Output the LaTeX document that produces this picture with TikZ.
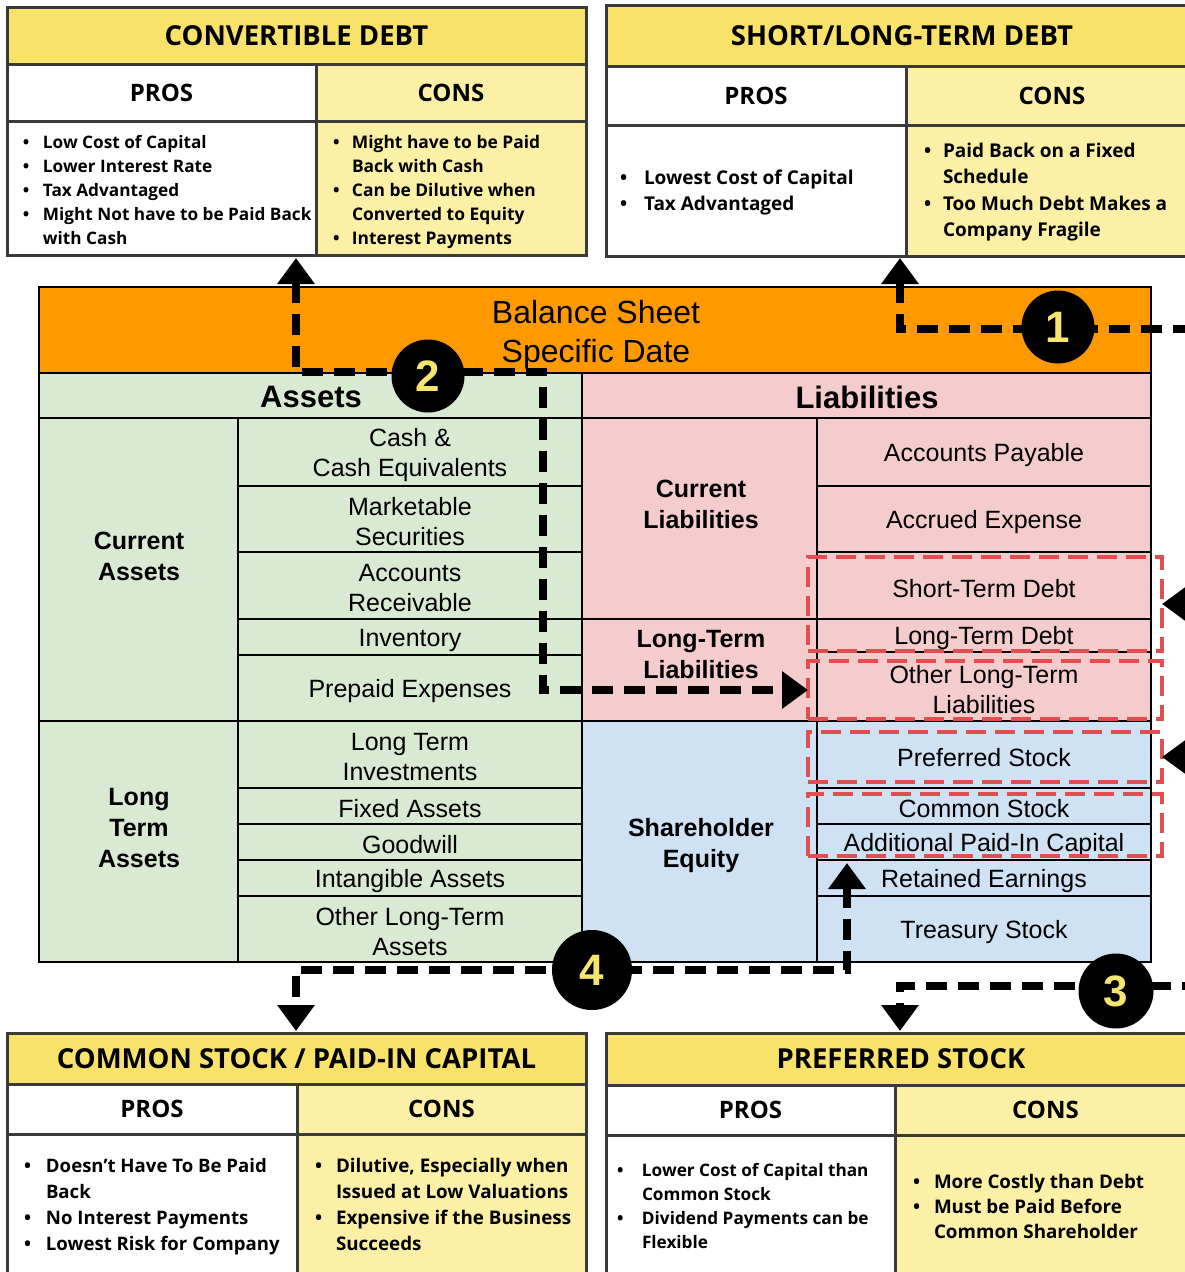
\documentclass[tikz,border=0pt]{standalone}
\usepackage{fontspec}
\setmainfont{Liberation Sans}
\newfontfamily\tblfont{Open Sans}
\usetikzlibrary{arrows.meta}
\definecolor{ttlc}{HTML}{F9E26A}
\definecolor{consbg}{HTML}{FCF0A6}
\definecolor{orng}{HTML}{FF9900}
\definecolor{grn}{HTML}{D9EAD3}
\definecolor{pnk}{HTML}{F4CCCC}
\definecolor{blu}{HTML}{CFE2F3}
\definecolor{redd}{HTML}{E04E50}
\definecolor{numy}{HTML}{F7E56E}
\definecolor{bord}{HTML}{3A3A3A}
\newlength\bind
\newcommand\bitem[1]{\par\hangindent=\bind\hangafter=1\noindent\hbox to\bind{\textbullet\hfil}#1}
\newcommand\blist[4]{\parbox[t]{400pt}{\raggedright\tblfont\bfseries\fontsize{#1}{#2}\selectfont\setlength\bind{#3}#4}}
\begin{document}
\begin{tikzpicture}[x=1pt,y=-1pt,
  tcell/.style={draw=bord, line width=3pt, anchor=north west, inner sep=0pt, outer sep=0pt},
  ttlbox/.style={tcell, fill=ttlc, font=\tblfont\bfseries\fontsize{27.5}{32}\selectfont},
  hdbox/.style={tcell, font=\tblfont\bfseries\fontsize{24}{28}\selectfont},
  listnode/.style={anchor=base west, inner sep=0pt, outer sep=0pt},
  bcell/.style={draw=black, line width=1.4pt, anchor=north west, inner sep=0pt, outer sep=0pt},
  btext/.style={align=center, inner sep=0pt, yshift=-3pt, font=\fontsize{25}{30}\selectfont},
  blabel/.style={align=center, inner sep=0pt, font=\bfseries\fontsize{25}{31}\selectfont},
  bhead/.style={inner sep=0pt, font=\bfseries\fontsize{31}{36}\selectfont},
  redbox/.style={draw=redd, line width=3.5pt, dash pattern=on 20pt off 9pt, anchor=north west, inner sep=0pt, outer sep=0pt},
  conn/.style={draw=black, line width=8pt, dash pattern=on 21pt off 11pt},
  dbl/.style={arrows={Triangle[width=36pt,length=26pt]-Triangle[width=36pt,length=26pt]}},
  numc/.style={circle, fill=black, inner sep=0pt, text=numy, font=\bfseries\fontsize{44}{44}\selectfont}
]
\useasboundingbox (0,0) rectangle (1185,1272);
\clip (0,0) rectangle (1185,1272);
\fill[white] (0,0) rectangle (1185,1272);

% ===== Convertible debt table =====
\node[ttlbox, minimum width=579pt, minimum height=57pt] (cdT) at (7,7) {CONVERTIBLE DEBT};
\node[hdbox, fill=white, minimum width=309pt, minimum height=57pt] (cdPH) at (7,64) {PROS};
\node[hdbox, fill=consbg, minimum width=270pt, minimum height=57pt] (cdCH) at (316,64) {CONS};
\node[tcell, fill=white, minimum width=309pt, minimum height=134pt] (cdPB) at (7,121) {};
\node[tcell, fill=consbg, minimum width=270pt, minimum height=134pt] (cdCB) at (316,121) {};
\node[listnode] (cdPL) at (23,148) {\blist{17.2}{24}{20pt}{\bitem{Low Cost of Capital}\bitem{Lower Interest Rate}\bitem{Tax Advantaged}\bitem{Might Not have to be Paid Back\newline with Cash}}};
\node[listnode] (cdCL) at (333,148) {\blist{17.4}{24}{19pt}{\bitem{Might have to be Paid\newline Back with Cash}\bitem{Can be Dilutive when\newline Converted to Equity}\bitem{Interest Payments}}};

% ===== Short/Long-term debt table =====
\node[ttlbox, minimum width=592pt, minimum height=61pt] (sdT) at (606,5) {SHORT/LONG-TERM DEBT};
\node[hdbox, fill=white, minimum width=300pt, minimum height=59pt] (sdPH) at (606,66) {PROS};
\node[hdbox, fill=consbg, minimum width=292pt, minimum height=59pt] (sdCH) at (906,66) {CONS};
\node[tcell, fill=white, minimum width=300pt, minimum height=131pt] (sdPB) at (606,125) {};
\node[tcell, fill=consbg, minimum width=292pt, minimum height=131pt] (sdCB) at (906,125) {};
\node[listnode] (sdPL) at (620,184) {\blist{19}{26.5}{24pt}{\bitem{Lowest Cost of Capital}\bitem{Tax Advantaged}}};
\node[listnode] (sdCL) at (924,157) {\blist{19}{26.5}{19pt}{\bitem{Paid Back on a Fixed\newline Schedule}\bitem{Too Much Debt Makes a\newline Company Fragile}}};

% ===== Common stock table =====
\node[ttlbox, minimum width=579pt, minimum height=51pt] (csT) at (7,1033) {COMMON STOCK / PAID-IN CAPITAL};
\node[hdbox, fill=white, minimum width=290pt, minimum height=50pt] (csPH) at (7,1084) {PROS};
\node[hdbox, fill=consbg, minimum width=289pt, minimum height=50pt] (csCH) at (297,1084) {CONS};
\node[tcell, fill=white, minimum width=290pt, minimum height=160pt] (csPB) at (7,1134) {};
\node[tcell, fill=consbg, minimum width=289pt, minimum height=160pt] (csCB) at (297,1134) {};
\node[listnode] (csPL) at (24,1172) {\blist{18.6}{26.3}{22pt}{\bitem{Doesn’t Have To Be Paid\newline Back}\bitem{No Interest Payments}\bitem{Lowest Risk for Company}}};
\node[listnode] (csCL) at (315,1172) {\blist{18.8}{26.3}{21pt}{\bitem{Dilutive, Especially when\newline Issued at Low Valuations}\bitem{Expensive if the Business\newline Succeeds}}};

% ===== Preferred stock table =====
\node[ttlbox, minimum width=590pt, minimum height=52pt] (pfT) at (606,1033) {PREFERRED STOCK};
\node[hdbox, fill=white, minimum width=289pt, minimum height=50pt] (pfPH) at (606,1085) {PROS};
\node[hdbox, fill=consbg, minimum width=301pt, minimum height=50pt] (pfCH) at (895,1085) {CONS};
\node[tcell, fill=white, minimum width=289pt, minimum height=160pt] (pfPB) at (606,1135) {};
\node[tcell, fill=consbg, minimum width=301pt, minimum height=160pt] (pfCB) at (895,1135) {};
\node[listnode] (pfPL) at (617,1176) {\blist{17.2}{24}{25pt}{\bitem{Lower Cost of Capital than\newline Common Stock}\bitem{Dividend Payments can be\newline Flexible}}};
\node[listnode] (pfCL) at (913,1188) {\blist{18.8}{25}{21pt}{\bitem{More Costly than Debt}\bitem{Must be Paid Before\newline Common Shareholder}}};

% ===== Balance sheet =====
\fill[orng] (39,287) rectangle (1151,373);
\fill[grn] (39,373) rectangle (582,962);
\fill[pnk] (582,373) rectangle (1151,721);
\fill[blu] (582,721) rectangle (1151,962);
\node[align=center, inner sep=0pt, font=\fontsize{32}{39}\selectfont] (bsT) at (596,335) {Balance Sheet\\Specific Date};
\node[bhead] (assetsH) at (311,397) {Assets};
\node[bhead] (liabH) at (867,397) {Liabilities};

% asset cells
\node[bcell, minimum width=199pt, minimum height=303pt] (curA) at (39,418) {};
\node[bcell, minimum width=199pt, minimum height=241pt] (ltA) at (39,721) {};
\node[bcell, minimum width=344pt, minimum height=68pt] (cash) at (238,418) {};
\node[bcell, minimum width=344pt, minimum height=66pt] (mkt) at (238,486) {};
\node[bcell, minimum width=344pt, minimum height=67pt] (ar) at (238,552) {};
\node[bcell, minimum width=344pt, minimum height=36pt] (inv) at (238,619) {};
\node[bcell, minimum width=344pt, minimum height=66pt] (prep) at (238,655) {};
\node[bcell, minimum width=344pt, minimum height=67pt] (lti) at (238,721) {};
\node[bcell, minimum width=344pt, minimum height=36pt] (fixed) at (238,788) {};
\node[bcell, minimum width=344pt, minimum height=36pt] (gw) at (238,824) {};
\node[bcell, minimum width=344pt, minimum height=36pt] (intang) at (238,860) {};
\node[bcell, minimum width=344pt, minimum height=66pt] (olta) at (238,896) {};
% liability / equity cells
\node[bcell, minimum width=235pt, minimum height=201pt] (curL) at (582,418) {};
\node[bcell, minimum width=235pt, minimum height=102pt] (ltL) at (582,619) {};
\node[bcell, minimum width=235pt, minimum height=241pt] (she) at (582,721) {};
\node[bcell, minimum width=334pt, minimum height=68pt] (ap) at (817,418) {};
\node[bcell, minimum width=334pt, minimum height=66pt] (accr) at (817,486) {};
\node[bcell, minimum width=334pt, minimum height=67pt] (std) at (817,552) {};
\node[bcell, minimum width=334pt, minimum height=33pt] (ltd) at (817,619) {};
\node[bcell, minimum width=334pt, minimum height=69pt] (oltl) at (817,652) {};
\node[bcell, minimum width=334pt, minimum height=67pt] (pref) at (817,721) {};
\node[bcell, minimum width=334pt, minimum height=36pt] (cs) at (817,788) {};
\node[bcell, minimum width=334pt, minimum height=36pt] (apic) at (817,824) {};
\node[bcell, minimum width=334pt, minimum height=36pt] (re) at (817,860) {};
\node[bcell, minimum width=334pt, minimum height=66pt] (ts) at (817,896) {};

% cell texts
\node[btext] (cashT) at (cash.center) {Cash \&\\Cash Equivalents};
\node[btext] (mktT) at (mkt.center) {Marketable\\Securities};
\node[btext] (arT) at (ar.center) {Accounts\\Receivable};
\node[btext] (invT) at (inv.center) {Inventory};
\node[btext] (prepT) at (prep.center) {Prepaid Expenses};
\node[btext] (ltiT) at (lti.center) {Long Term\\Investments};
\node[btext] (fixedT) at (fixed.center) {Fixed Assets};
\node[btext] (gwT) at (gw.center) {Goodwill};
\node[btext] (intangT) at (intang.center) {Intangible Assets};
\node[btext] (oltaT) at (olta.center) {Other Long-Term\\Assets};
\node[btext] (apT) at (ap.center) {Accounts Payable};
\node[btext] (accrT) at (accr.center) {Accrued Expense};
\node[btext] (stdT) at (std.center) {Short-Term Debt};
\node[btext] (ltdT) at (ltd.center) {Long-Term Debt};
\node[btext] (oltlT) at (oltl.center) {Other Long-Term\\Liabilities};
\node[btext] (prefT) at (pref.center) {Preferred Stock};
\node[btext] (csT2) at (cs.center) {Common Stock};
\node[btext] (apicT) at (apic.center) {Additional Paid-In Capital};
\node[btext] (reT) at (re.center) {Retained Earnings};
\node[btext] (tsT) at (ts.center) {Treasury Stock};

\node[blabel] (curAL) at (139,556) {Current\\Assets};
\node[blabel] (ltAL) at (139,828) {Long\\Term\\Assets};
\node[blabel] (curLL) at (701,504) {Current\\Liabilities};
\node[blabel] (ltLL) at (701,655) {Long-Term\\Liabilities};
\node[blabel] (sheL) at (701,846) {Shareholder\\Equity};

% major lines
\draw[black, line width=2pt] (39,373) -- (1151,373) (39,418) -- (1151,418) (582,373) -- (582,962) (39,721) -- (1151,721);
\draw[black, line width=2.5pt] (39,287) rectangle (1151,962);

% red dashed boxes
\node[redbox, minimum width=354pt, minimum height=94pt] (rb1) at (808,557) {};
\node[redbox, minimum width=354pt, minimum height=58pt] (rb2) at (808,661) {};
\node[redbox, minimum width=354pt, minimum height=50pt] (rb3) at (808,732) {};
\node[redbox, minimum width=354pt, minimum height=62pt] (rb4) at (808,794) {};

% connectors
\coordinate (cdB) at (296,258);
\coordinate (sdB) at (900,258);
\coordinate (csTop) at (296,1031);
\coordinate (pfTop) at (900,1031);
\coordinate (reB) at (847,863);

\draw[conn, dbl] (sdB) -- (900,329) -- (1240,329) -- (1240,604) -- (rb1.east);
\draw[conn, dbl] (cdB) -- (296,372) -- (543,372) -- (543,690) -- (rb2.west);
\draw[conn, dbl] (rb3.east) -- (1240,757) -- (1240,986) -- (900,986) -- (pfTop);
\draw[conn, dbl] (reB) -- (847,970) -- (296,970) -- (csTop);

\node[numc, minimum size=73pt] (n1) at (1058,327) {1};
\node[numc, minimum size=73pt] (n2) at (428,376) {2};
\node[numc, minimum size=75pt] (n3) at (1116,991) {3};
\node[numc, minimum size=80pt] (n4) at (592,970) {4};
\end{tikzpicture}
\end{document}
